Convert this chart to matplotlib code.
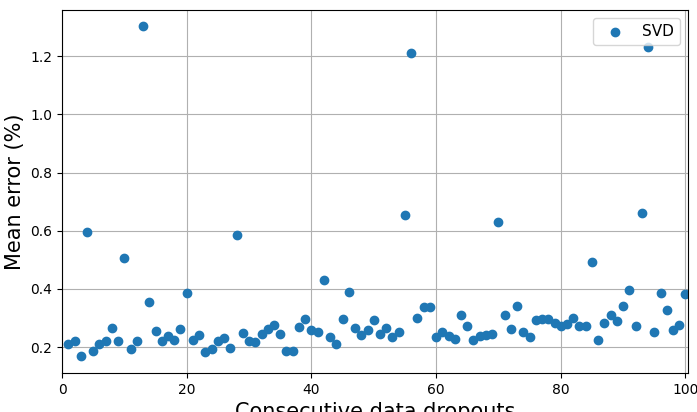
import numpy as np
import matplotlib
matplotlib.use("Agg")
import matplotlib.pyplot as plt

# consecutive dropouts 1..100 and mean error
dropouts = list(range(1, 101))
svd_error = [
    0.209, 0.220, 0.168, 0.596, 0.185, 0.209, 0.220, 0.266, 0.220, 0.506,
    0.195, 0.220, 1.303, 0.356, 0.255, 0.220, 0.239, 0.224, 0.262, 0.386,
    0.224, 0.242, 0.184, 0.192, 0.220, 0.230, 0.198, 0.584, 0.247, 0.221,
    0.216, 0.246, 0.262, 0.276, 0.244, 0.186, 0.188, 0.270, 0.296, 0.258,
    0.252, 0.430, 0.236, 0.212, 0.296, 0.390, 0.266, 0.242, 0.260, 0.293,
    0.244, 0.266, 0.236, 0.252, 0.653, 1.212, 0.301, 0.337, 0.337, 0.233,
    0.252, 0.239, 0.227, 0.310, 0.272, 0.224, 0.238, 0.242, 0.244, 0.631,
    0.310, 0.263, 0.340, 0.252, 0.233, 0.293, 0.296, 0.296, 0.284, 0.274,
    0.278, 0.301, 0.274, 0.274, 0.492, 0.224, 0.282, 0.310, 0.290, 0.342,
    0.396, 0.272, 0.661, 1.233, 0.252, 0.386, 0.328, 0.260, 0.276, 0.382,
]

fig = plt.figure(figsize=(6.97, 4.12), dpi=100)
ax = fig.add_axes([0.089, 0.095, 0.898, 0.881])

ax.scatter(dropouts, svd_error, label="SVD", color="#1f77b4")
ax.grid(True, color="#b0b0b0")
ax.set_axisbelow(True)
ax.set_xlim(0, 100.4)
ax.set_xlabel("Consecutive data dropouts", fontsize=15)
ax.set_ylabel("Mean error (%)", fontsize=15)
ax.legend(loc="upper right", fontsize=11)

fig.savefig("out.png", dpi=100)
